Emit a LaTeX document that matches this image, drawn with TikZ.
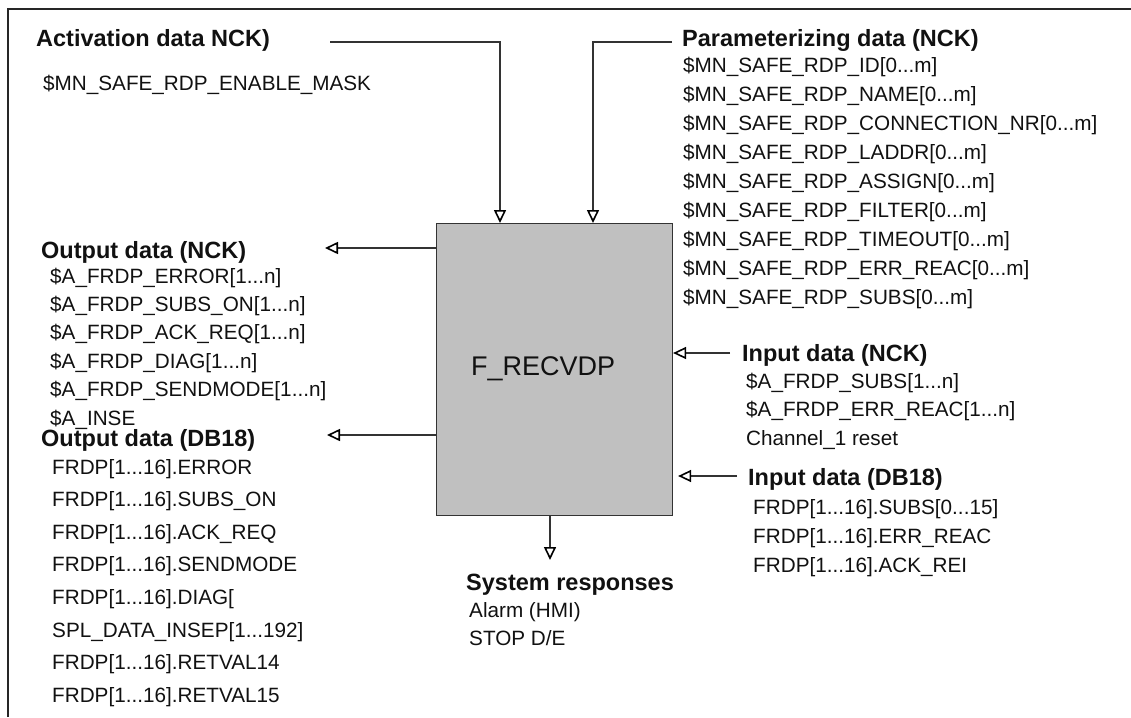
\documentclass[tikz,border=0pt]{standalone}
\usepackage{fontspec}
\setmainfont{Liberation Sans}
\usetikzlibrary{arrows.meta,calc}
\definecolor{boxgray}{HTML}{C0C0C0}
\definecolor{ink}{HTML}{111111}
\begin{document}
\begin{tikzpicture}[x=1pt,y=-1pt,
  hd/.style={anchor=base west, inner sep=0pt, text=ink, font=\fontsize{23.5}{28}\selectfont\bfseries},
  it/.style={anchor=base west, inner sep=0pt, text=ink, font=\fontsize{20.7}{25}\selectfont},
  conn/.style={line width=1.1pt, draw=black!80, -{Triangle[open,length=13pt,width=12pt,line width=1.6pt,color=black]}},
  frame/.style={line width=1.5pt, draw=black!85}
  ]
\useasboundingbox (0,0) rectangle (1131,717);
% frame
\draw[frame] (8,717) -- (8,9) -- (1131,9);
% central box
\node[draw=black!80, line width=1.1pt, fill=boxgray, minimum width=236pt, minimum height=292pt, anchor=north west, inner sep=0pt] (box) at (436,223) {};
\node[anchor=base west, inner sep=0pt, text=ink, font=\fontsize{27}{32}\selectfont] (fname) at (471,375) {F\_RECVDP};

% activation data
\node[hd] (acth) at (36,46) {Activation data NCK)};
\node[it] (act1) at (43,90) {\$MN\_SAFE\_RDP\_ENABLE\_MASK};

% parameterizing data
\node[hd] (parh) at (682,46) {Parameterizing data (NCK)};
\node[it] (par1) at (683,72) {\$MN\_SAFE\_RDP\_ID[0...m]};
\node[it] (par2) at (683,101) {\$MN\_SAFE\_RDP\_NAME[0...m]};
\node[it] (par3) at (683,130) {\$MN\_SAFE\_RDP\_CONNECTION\_NR[0...m]};
\node[it] (par4) at (683,159) {\$MN\_SAFE\_RDP\_LADDR[0...m]};
\node[it] (par5) at (683,188) {\$MN\_SAFE\_RDP\_ASSIGN[0...m]};
\node[it] (par6) at (683,217) {\$MN\_SAFE\_RDP\_FILTER[0...m]};
\node[it] (par7) at (683,246) {\$MN\_SAFE\_RDP\_TIMEOUT[0...m]};
\node[it] (par8) at (683,275) {\$MN\_SAFE\_RDP\_ERR\_REAC[0...m]};
\node[it] (par9) at (683,304) {\$MN\_SAFE\_RDP\_SUBS[0...m]};

% output data NCK
\node[hd] (onh) at (41,258) {Output data (NCK)};
\node[it] (on1) at (50,283) {\$A\_FRDP\_ERROR[1...n]};
\node[it] (on2) at (50,311.4) {\$A\_FRDP\_SUBS\_ON[1...n]};
\node[it] (on3) at (50,339.8) {\$A\_FRDP\_ACK\_REQ[1...n]};
\node[it] (on4) at (50,368.2) {\$A\_FRDP\_DIAG[1...n]};
\node[it] (on5) at (50,396.6) {\$A\_FRDP\_SENDMODE[1...n]};
\node[it] (on6) at (50,425) {\$A\_INSE};

% output data DB18
\node[hd] (odh) at (41,446) {Output data (DB18)};
\node[it] (od1) at (52,474) {FRDP[1...16].ERROR};
\node[it] (od2) at (52,506.6) {FRDP[1...16].SUBS\_ON};
\node[it] (od3) at (52,539.2) {FRDP[1...16].ACK\_REQ};
\node[it] (od4) at (52,571.8) {FRDP[1...16].SENDMODE};
\node[it] (od5) at (52,604.4) {FRDP[1...16].DIAG[};
\node[it] (od6) at (52,637) {SPL\_DATA\_INSEP[1...192]};
\node[it] (od7) at (52,669.6) {FRDP[1...16].RETVAL14};
\node[it] (od8) at (52,702) {FRDP[1...16].RETVAL15};

% input data NCK
\node[hd] (inh) at (742,361) {Input data (NCK)};
\node[it] (in1) at (746,388) {\$A\_FRDP\_SUBS[1...n]};
\node[it] (in2) at (746,416.5) {\$A\_FRDP\_ERR\_REAC[1...n]};
\node[it] (in3) at (746,445) {Channel\_1 reset};

% input data DB18
\node[hd] (idh) at (748,485) {Input data (DB18)};
\node[it] (id1) at (753,514) {FRDP[1...16].SUBS[0...15]};
\node[it] (id2) at (753,543) {FRDP[1...16].ERR\_REAC};
\node[it] (id3) at (753,572) {FRDP[1...16].ACK\_REI};

% system responses
\node[hd] (sysh) at (466,590) {System responses};
\node[it] (sys1) at (469,617) {Alarm (HMI)};
\node[it] (sys2) at (469,645) {STOP D/E};

% connectors
\coordinate (actS) at (330,42);
\coordinate (actE) at ($(box.north west)+(64,0)$);
\draw[conn] (actS) -| (actE);
\coordinate (parS) at (672,42);
\coordinate (parE) at ($(box.north west)+(157,0)$);
\draw[conn] (parS) -| (parE);
\coordinate (onT) at (325,248);
\draw[conn] (box.west |- onT) -- (onT);
\coordinate (odT) at (327,435);
\draw[conn] (box.west |- odT) -- (odT);
\coordinate (inS) at (730,353);
\draw[conn] (inS) -- (box.east |- inS);
\coordinate (idS) at (737,476);
\draw[conn] (idS) -- ($(box.east |- idS)+(5,0)$);
\coordinate (sysT) at (550,560);
\draw[conn] (box.south -| sysT) -- (sysT);
\end{tikzpicture}
\end{document}
